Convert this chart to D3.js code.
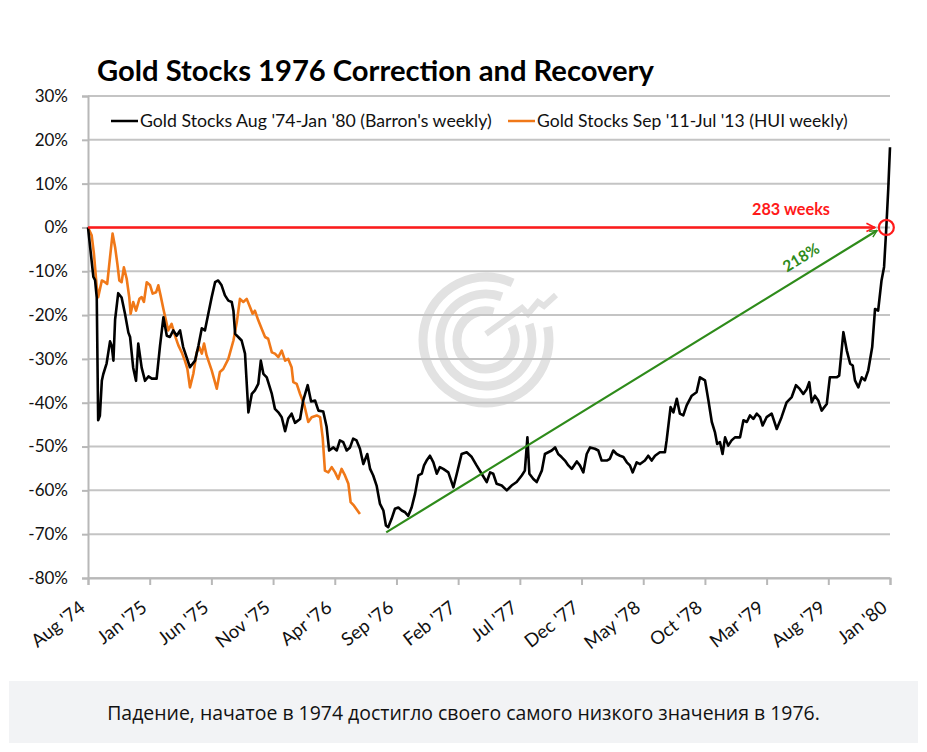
<!DOCTYPE html>
<html>
<head>
<meta charset="utf-8">
<script src="https://cdn.jsdelivr.net/npm/d3@7"></script>
<style>
  html, body { margin: 0; padding: 0; background: #fff; }
  svg { display: block; }
</style>
</head>
<body>
<div id="chart"></div>
<script>
// ---------------- DATA ----------------
const chartTitle = "Gold Stocks 1976 Correction and Recovery";
const seriesNames = ["Gold Stocks Aug '74-Jan '80 (Barron's weekly)", "Gold Stocks Sep '11-Jul '13 (HUI weekly)"];
const xTickLabels = ["Aug '74","Jan '75","Jun '75","Nov '75","Apr '76","Sep '76","Feb '77","Jul '77","Dec '77","May '78","Oct '78","Mar '79","Aug '79","Jan '80"];
const yTicks = [30, 20, 10, 0, -10, -20, -30, -40, -50, -60, -70, -80];
const totalWeeks = 284;
const caption = "Падение, начатое в 1974 достигло своего самого низкого значения в 1976.";

// [week since start, % change from start]
const goldStocks7480 = [
 [0,0],[1.9,-11.3],[2.5,-12],[3.1,-16],[3.6,-44],[4.2,-43],[4.9,-35],[5.4,-33.5],[6.6,-31],[7.8,-26],[8.4,-27],[9.0,-30.4],
 [9.6,-21],[10.7,-15],[11.9,-16],[13.1,-19.7],[14.3,-24],[14.9,-25],[16.0,-32],[17.0,-35],[17.8,-26.5],[19.0,-32],[20.2,-35],
 [21.4,-34],[22.6,-34.5],[24.3,-34.5],[25.5,-27],[26.7,-20.5],[27.9,-24.7],[29.0,-25],[30.2,-23.5],[31.4,-24.7],[32.6,-23.5],
 [33.7,-27.3],[34.9,-29.6],[36.1,-31.9],[37.9,-30.4],[39.1,-27],[40.3,-23],[41.4,-23.5],[42.6,-19.7],[43.8,-15.9],[45.0,-12.5],
 [46.1,-12.1],[47.3,-13.2],[48.5,-15.5],[49.7,-16.7],[50.9,-17],[51.5,-19],[52.1,-24.3],[53.2,-25],[54.4,-25.8],[55.6,-28.8],
 [56.8,-42.2],[58.0,-38],[59.1,-37.2],[60.3,-35.7],[61.2,-30.4],[62.1,-33.4],[63.3,-34.2],[65.1,-38],[66.2,-41.4],[67.4,-42.2],
 [68.6,-43.3],[69.8,-46.5],[70.9,-43.6],[72.1,-42.5],[73.3,-44.6],[75.1,-43.7],[76.2,-39.5],[77.8,-36],[79.0,-39.7],[80.4,-39.5],
 [81.6,-41.8],[83.3,-42],[84.5,-45.5],[85.4,-50.9],[86.9,-50.2],[88.1,-50.9],[89.2,-48.6],[90.4,-49],[91.6,-50.9],[92.8,-50.2],
 [93.9,-48.2],[95.1,-48.6],[96.3,-50.5],[97.5,-54],[98.9,-51.7],[99.9,-55.1],[101.0,-56.6],[102.2,-58.9],[103.4,-63.1],
 [104.6,-64.6],[105.5,-68],[106.3,-68.4],[107.5,-66.5],[108.7,-64.2],[109.9,-63.9],[111.1,-64.6],[112.3,-65],[113.4,-65.8],
 [114.6,-63.9],[115.8,-60.8],[117.0,-56.6],[118.2,-56.2],[119.0,-54.3],[119.9,-53.2],[121.1,-52.1],[122.3,-53.6],[123.5,-56.2],
 [124.6,-54.7],[125.8,-55.1],[127.6,-55.9],[129.4,-59.3],[130.6,-56.2],[132.3,-51.7],[134.1,-51.3],[135.9,-52.4],[137.6,-54.3],
 [139.4,-56.2],[141.2,-58.1],[142.4,-55.9],[143.5,-56.2],[144.7,-58.5],[146.5,-58.9],[148.3,-60],[150.0,-58.9],[151.8,-58.1],
 [153.6,-56.6],[154.7,-55.5],[155.6,-47.9],[156.3,-56.2],[157.7,-57.4],[158.9,-58.1],[160.7,-55.5],[161.8,-51.7],[163.0,-51.3],
 [164.2,-50.9],[165.4,-50.2],[166.5,-51.7],[167.7,-52.4],[168.9,-53.2],[170.1,-54.3],[171.3,-55.1],[173.1,-53.4],[174.2,-54.3],
 [175.4,-55.9],[176.6,-51.7],[177.8,-50.2],[179.5,-50.5],[180.7,-50.9],[181.9,-53.2],[183.7,-53.2],[184.8,-52.8],[186.0,-50.9],
 [187.2,-51.7],[188.4,-52.1],[189.6,-52.4],[190.8,-53.6],[191.9,-54.3],[192.9,-55.9],[194.3,-53.6],[195.5,-54],[197.2,-53.2],
 [198.4,-52.1],[199.6,-53.2],[200.8,-52.1],[202.5,-51.3],[204.3,-51.3],[204.9,-48.6],[206.3,-41],[207.3,-42.2],[208.5,-39.1],
 [209.6,-42.5],[210.8,-42.9],[212.0,-40.6],[213.8,-38.4],[215.5,-37.6],[216.7,-34.2],[218.5,-34.9],[219.7,-39.5],[220.9,-44.4],
 [222.0,-46.7],[222.8,-49.4],[223.8,-49],[224.7,-51.7],[225.6,-47.9],[226.7,-49.8],[227.9,-48.6],[229.1,-47.9],[230.9,-47.9],
 [232.1,-44],[233.3,-44.4],[234.4,-42.9],[235.6,-43.7],[236.8,-42.5],[238.0,-43.3],[238.9,-45.2],[240.3,-43.3],[242.1,-42.5],
 [243.9,-46],[245.6,-43.3],[247.4,-39.9],[249.2,-38.7],[250.7,-36],[252.1,-36.9],[253.3,-38],[254.5,-36.9],[255.4,-35.3],
 [256.3,-39.9],[257.4,-38.4],[258.6,-39.5],[259.8,-41.8],[261.6,-40.3],[262.7,-34.2],[265.1,-34.2],[266.0,-33.8],[267.5,-23.9],
 [268.7,-28.1],[269.9,-31.1],[270.8,-31.5],[271.6,-34.9],[272.8,-36.5],[274.0,-34.2],[275.1,-34.9],[276.3,-32.6],[277.7,-27.3],
 [278.7,-18.6],[279.8,-19],[281.0,-12.1],[281.9,-9],[282.7,0],[283.4,9],[284,18.3]
];
const goldStocks1113 = [
 [0,0],[1.3,-1.8],[2.1,-6],[3.1,-13.6],[3.6,-15.9],[4.9,-12.1],[6.0,-12.5],[6.8,-12.9],[7.8,-6.8],[8.7,-1.4],[9.6,-4.5],
 [10.4,-8.3],[11.1,-12.1],[11.9,-12.5],[12.7,-9.1],[13.7,-11.7],[14.6,-15.9],[15.1,-19.7],[16.0,-17],[17.0,-19],[18.2,-16.3],
 [19.0,-15.9],[19.8,-17],[20.8,-12.5],[22.0,-13.2],[22.9,-15.1],[24.1,-14.8],[24.9,-13.2],[25.7,-15.5],[26.7,-18.6],[27.6,-21.2],
 [28.4,-23.5],[29.6,-22],[30.8,-24.7],[32.0,-26.9],[33.2,-28.5],[34.3,-30.4],[35.2,-32.3],[36.1,-36.5],[37.3,-33.4],[38.5,-28.5],
 [39.4,-27.3],[40.3,-28.8],[41.1,-26.5],[42.0,-29.2],[43.8,-32.6],[45.6,-36.8],[46.7,-33],[47.9,-32.3],[49.7,-30],[51.5,-25.8],
 [52.7,-21.6],[53.8,-16.3],[55.0,-17],[56.2,-16.3],[57.4,-18.2],[58.3,-19.7],[59.1,-19],[60.3,-21.2],[61.5,-23.1],[62.7,-25],
 [63.8,-25.4],[65.1,-28.5],[66.2,-28.8],[67.4,-29.6],[68.6,-28.1],[69.8,-30.4],[70.9,-30],[72.1,-31.9],[72.7,-35.3],[73.9,-35.7],
 [75.1,-38],[76.5,-40.3],[78.0,-44.4],[79.2,-43.3],[81.0,-42.9],[82.2,-43.3],[83.1,-47.9],[83.9,-55.5],[85.1,-55.9],[86.3,-54.7],
 [87.5,-55.9],[88.6,-57.4],[89.8,-55.1],[91.0,-56.6],[92.2,-58.5],[93.0,-62.7],[94.2,-63.5],[95.4,-64.6],[96.3,-65.4]
];
// annotations
const weeksLabel = "283 weeks";
const gainLabel = "218%";
const recoveryWeek = 282.7;       // where the old high is regained (0%)
const lowPoint = [105.6, -69.6];  // start of green arrow
const greenEnd = [279.4, -0.7];
const redEnd = 278.6;

// ---------------- CHART ----------------
const W = 927, H = 752;
const svg = d3.select("#chart").append("svg").attr("width", W).attr("height", H);
const FONT = "Lato, 'Open Sans', sans-serif";

const x = d3.scaleLinear().domain([0, totalWeeks]).range([88, 890]);
const y = d3.scaleLinear().domain([-80, 30]).range([578, 96]);

function fitWidth(sel, target) {
  const w = sel.node().getComputedTextLength();
  const fs = parseFloat(sel.attr("font-size"));
  sel.attr("font-size", (fs * target / w).toFixed(2));
}

// watermark logo
const logo = svg.append("g").attr("transform", "translate(486,340)")
  .attr("fill", "none").attr("stroke", "#e2e2e2").attr("stroke-width", 9);
[63, 46, 29].forEach((r, i) => {
  const a0 = (78 - i * 8) * Math.PI / 180, a1 = (385 - i * 5) * Math.PI / 180;
  logo.append("path").attr("d", d3.arc()({innerRadius: r, outerRadius: r, startAngle: a0, endAngle: a1}));
});
logo.append("path").attr("stroke-width", 6).attr("stroke-linejoin", "miter")
  .attr("d", "M0,-6 L36,-32 L42,-26 L52,-38 L58,-34 L70,-45");

// gridlines
svg.append("g").selectAll("line").data(yTicks).join("line")
  .attr("x1", 88).attr("x2", 890)
  .attr("y1", d => y(d)).attr("y2", d => y(d))
  .attr("stroke", "#c4c4c4").attr("stroke-width", 2);

// y axis
const yAxis = svg.append("g").attr("transform", "translate(88,0)")
  .call(d3.axisLeft(y).tickValues(yTicks).tickFormat(d => d + "%").tickSize(6).tickPadding(14));
yAxis.select(".domain").attr("stroke", "#b8b8b8").attr("stroke-width", 2);
yAxis.selectAll(".tick line").attr("stroke", "#b8b8b8").attr("stroke-width", 2);
yAxis.selectAll(".tick text").attr("font-family", FONT).attr("font-size", 17).attr("fill", "#111");

// x axis
const xTickVals = xTickLabels.map((_, i) => i * totalWeeks / (xTickLabels.length - 1));
const xAxis = svg.append("g").attr("transform", "translate(0,578)")
  .call(d3.axisBottom(x).tickValues(xTickVals).tickFormat((d, i) => xTickLabels[i]).tickSize(7));
xAxis.select(".domain").attr("stroke", "#b8b8b8").attr("stroke-width", 2);
xAxis.selectAll(".tick line").attr("stroke", "#b8b8b8").attr("stroke-width", 2);
xAxis.selectAll(".tick text")
  .attr("font-family", FONT).attr("font-size", 18.5).attr("fill", "#111")
  .attr("text-anchor", "end").attr("y", 0).attr("dy", 0)
  .attr("transform", "translate(-2,32) rotate(-38)");

// title
const title = svg.append("text").attr("x", 97).attr("y", 81)
  .attr("font-family", FONT).attr("font-weight", 700).attr("font-size", 26).attr("fill", "#000")
  .text(chartTitle);
fitWidth(title, 557);

// legend
const legColors = ["#000000", "#f07818"];
const legX = [[111, 138, 140, 492], [508, 535, 537, 848]];
seriesNames.forEach((n, i) => {
  svg.append("line").attr("x1", legX[i][0]).attr("x2", legX[i][1]).attr("y1", 121).attr("y2", 121)
    .attr("stroke", legColors[i]).attr("stroke-width", 2.5);
  const t = svg.append("text").attr("x", legX[i][2]).attr("y", 127)
    .attr("font-family", FONT).attr("font-size", 16).attr("fill", "#111").text(n);
  fitWidth(t, legX[i][3] - legX[i][2]);
});

// lines
const line = d3.line().x(d => x(d[0])).y(d => y(d[1]));
svg.append("path").datum(goldStocks1113).attr("d", line)
  .attr("fill", "none").attr("stroke", legColors[1]).attr("stroke-width", 2.6).attr("stroke-linejoin", "round");
svg.append("path").datum(goldStocks7480).attr("d", line)
  .attr("fill", "none").attr("stroke", legColors[0]).attr("stroke-width", 2.6).attr("stroke-linejoin", "round");

// arrow markers
const defs = svg.append("defs");
[["arrRed", "#ff1a1a"], ["arrGreen", "#2e8b1a"]].forEach(([id, c]) => {
  defs.append("marker").attr("id", id).attr("viewBox", "0 0 10 10").attr("refX", 9).attr("refY", 5)
    .attr("markerWidth", 4).attr("markerHeight", 4).attr("orient", "auto").attr("markerUnits", "strokeWidth")
    .append("path").attr("d", "M1,1 L9,5 L1,9").attr("fill", "none").attr("stroke", c).attr("stroke-width", 1.6);
});

// red arrow (283 weeks)
svg.append("line").attr("x1", x(0)).attr("x2", x(redEnd)).attr("y1", y(0)).attr("y2", y(0))
  .attr("stroke", "#ff1a1a").attr("stroke-width", 2.6).attr("marker-end", "url(#arrRed)");
svg.append("circle").attr("cx", x(recoveryWeek)).attr("cy", y(0)).attr("r", 7.5)
  .attr("fill", "none").attr("stroke", "#ff1a1a").attr("stroke-width", 2.2);
const wl = svg.append("text").attr("x", 752).attr("y", 215)
  .attr("font-family", FONT).attr("font-weight", 700).attr("font-size", 16).attr("fill", "#ff1a1a")
  .text(weeksLabel);
fitWidth(wl, 78);

// green arrow (218%)
svg.append("line").attr("x1", x(lowPoint[0])).attr("y1", y(lowPoint[1]))
  .attr("x2", x(greenEnd[0])).attr("y2", y(greenEnd[1]))
  .attr("stroke", "#2e8b1a").attr("stroke-width", 2.2).attr("marker-end", "url(#arrGreen)");
const ang = Math.atan2(y(greenEnd[1]) - y(lowPoint[1]), x(greenEnd[0]) - x(lowPoint[0])) * 180 / Math.PI;
svg.append("text").attr("transform", `translate(804,262) rotate(${ang})`).attr("text-anchor", "middle")
  .attr("font-family", FONT).attr("font-weight", 700).attr("font-size", 15.5).attr("fill", "#2e8b1a")
  .text(gainLabel);

// caption box
svg.append("rect").attr("x", 9).attr("y", 681).attr("width", 909).attr("height", 62).attr("fill", "#f2f3f5");
const cap = svg.append("text").attr("x", 463.5).attr("y", 720).attr("text-anchor", "middle")
  .attr("font-family", "'Open Sans', sans-serif").attr("font-size", 19).attr("fill", "#111").text(caption);
fitWidth(cap, 713);
</script>
</body>
</html>
